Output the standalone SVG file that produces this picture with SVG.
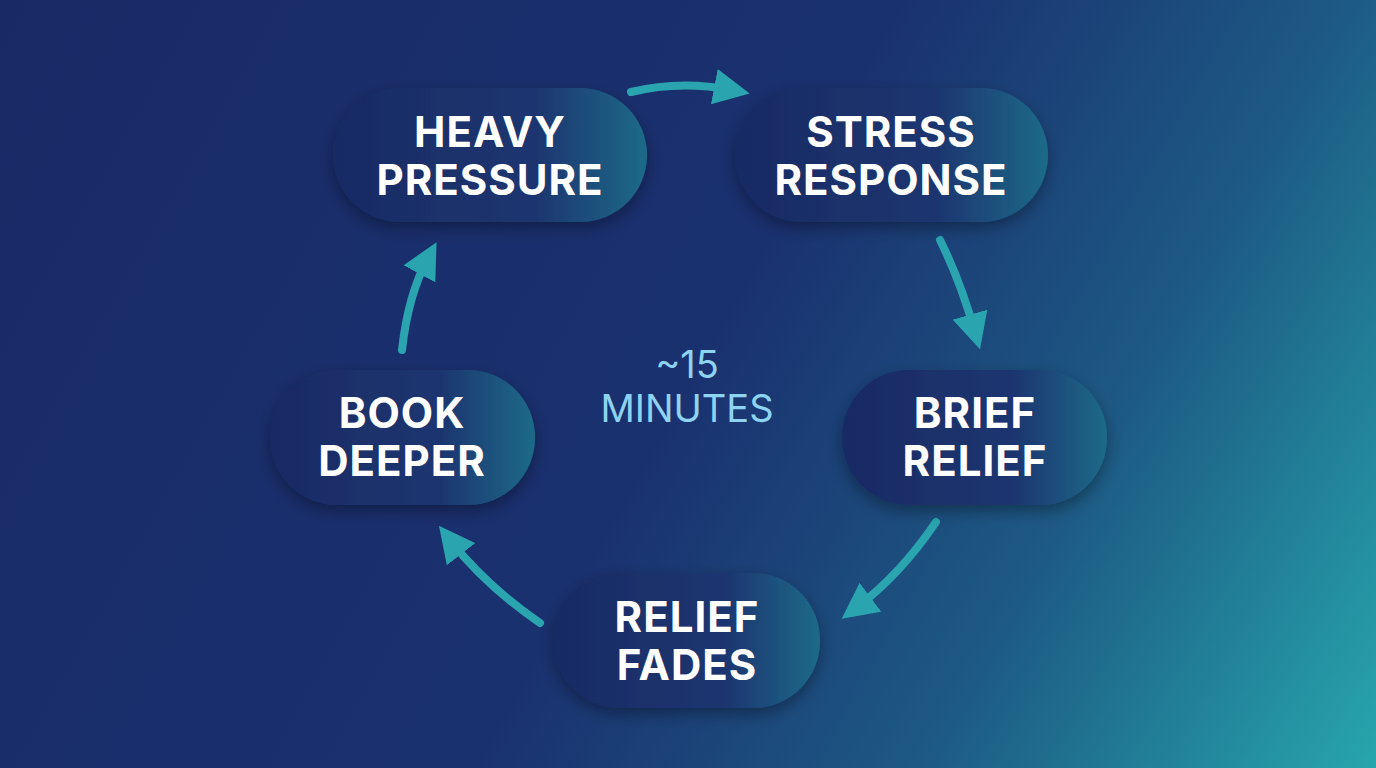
<svg xmlns="http://www.w3.org/2000/svg" width="1376" height="768" viewBox="0 0 1376 768">
<defs>
<linearGradient id="bg" x1="0" y1="0" x2="1376" y2="768" gradientUnits="userSpaceOnUse">
<stop offset="0" stop-color="#182a66"/><stop offset="0.5" stop-color="#1a3170"/><stop offset="0.75" stop-color="#1d5a84"/><stop offset="1" stop-color="#27a6ad"/>
</linearGradient>
<linearGradient id="pill" x1="0" y1="0" x2="1" y2="0">
<stop offset="0" stop-color="#192a64"/><stop offset="0.65" stop-color="#1b3670"/><stop offset="1" stop-color="#1f6a88"/>
</linearGradient>
<filter id="sh" x="-20%" y="-30%" width="140%" height="160%"><feDropShadow dx="0" dy="6" stdDeviation="8" flood-color="#000" flood-opacity="0.35"/></filter>
<marker id="ah" viewBox="0 0 10 10" refX="5" refY="5" markerWidth="4.5" markerHeight="4.5" orient="auto"><path d="M0,0 L10,5 L0,10 z" fill="#2aa5b0"/></marker>
<style>
.p{fill:url(#pill);filter:url(#sh)}
.t{font-family:Inter,"Liberation Sans",sans-serif;font-weight:700;font-size:42px;fill:#fff;text-anchor:middle;letter-spacing:1px}
.c{fill:none;stroke:#2aa5b0;stroke-width:8;stroke-linecap:round;marker-end:url(#ah)}
.m{font-family:Inter,"Liberation Sans",sans-serif;font-size:38px;fill:#8fd3f2;text-anchor:middle}
</style>
</defs>
<rect width="1376" height="768" fill="url(#bg)"/>
<g id="connectors">
<path class="c" d="M631,92 Q680,80 732,90"/>
<path class="c" d="M940,240 Q960,280 975,332"/>
<path class="c" d="M936,522 Q900,575 856,608"/>
<path class="c" d="M540,623 Q485,585 450,540"/>
<path class="c" d="M402,350 Q408,295 428,258"/>
</g>
<g id="heavy"><rect class="p" x="333" y="88" width="314" height="134" rx="67"/><text class="t" x="490" y="147">HEAVY</text><text class="t" x="490" y="195">PRESSURE</text></g>
<g id="stress"><rect class="p" x="735" y="88" width="313" height="134" rx="67"/><text class="t" x="891" y="147">STRESS</text><text class="t" x="891" y="195">RESPONSE</text></g>
<g id="brief"><rect class="p" x="842" y="370" width="265" height="135" rx="67"/><text class="t" x="975" y="428">BRIEF</text><text class="t" x="975" y="476">RELIEF</text></g>
<g id="fades"><rect class="p" x="553" y="573" width="267" height="135" rx="67"/><text class="t" x="687" y="632">RELIEF</text><text class="t" x="687" y="680">FADES</text></g>
<g id="book"><rect class="p" x="270" y="370" width="265" height="135" rx="67"/><text class="t" x="402" y="428">BOOK</text><text class="t" x="402" y="476">DEEPER</text></g>
<g id="center"><text class="m" x="687" y="378">~15</text><text class="m" x="687" y="422">MINUTES</text></g>
</svg>
